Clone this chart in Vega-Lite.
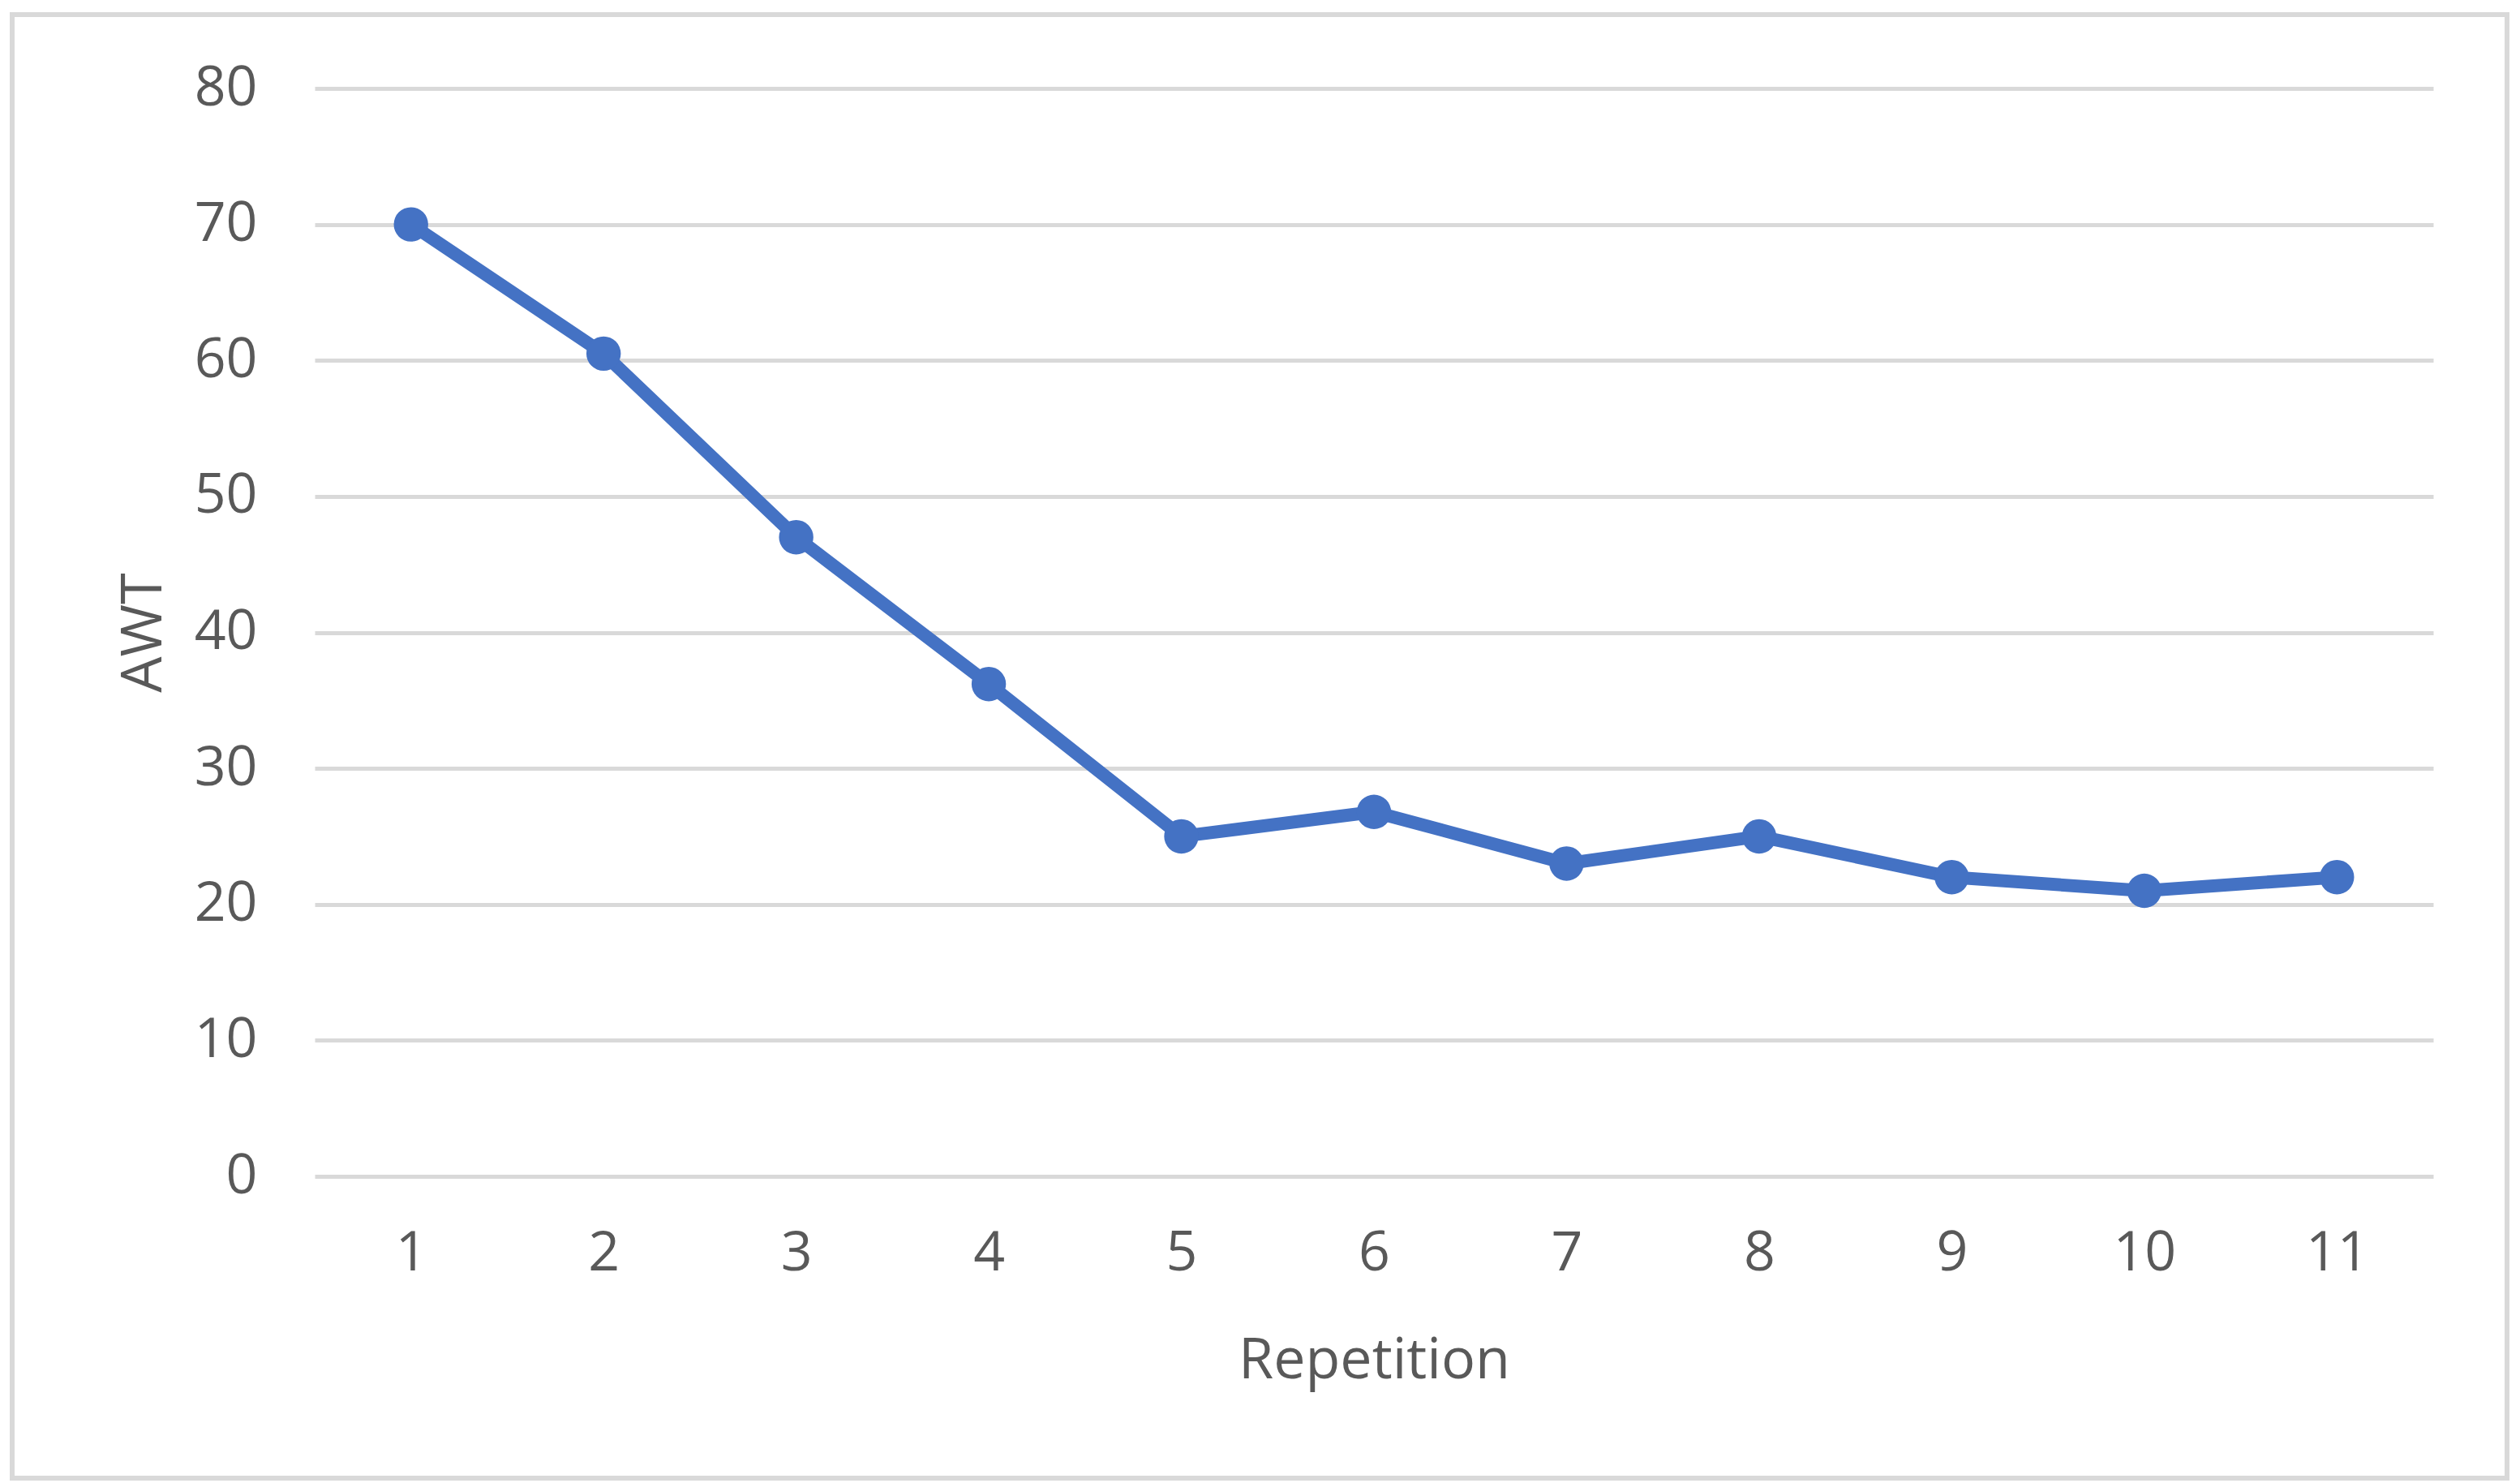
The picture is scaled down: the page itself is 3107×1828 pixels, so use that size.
{
  "$schema": "https://vega.github.io/schema/vega-lite/v6.json",
  "autosize": {"type": "none"},
  "width": 3076,
  "height": 1804,
  "padding": {"left": 15, "top": 18, "right": 16, "bottom": 6},
  "background": "#ffffff",
  "config": {
    "view": {"stroke": "#d9d9d9", "strokeWidth": 6},
    "font": "Open Sans",
    "axis": {
      "labelFont": "Open Sans",
      "titleFont": "Open Sans",
      "labelColor": "#595959",
      "titleColor": "#595959",
      "labelFontSize": 68,
      "titleFontSize": 70,
      "titleFontWeight": "normal",
      "domain": false,
      "ticks": false,
      "tickSize": 0
    }
  },
  "data": {
    "values": [
      {"Repetition": 1, "AWT": 70},
      {"Repetition": 2, "AWT": 60.5},
      {"Repetition": 3, "AWT": 47},
      {"Repetition": 4, "AWT": 36.2},
      {"Repetition": 5, "AWT": 25},
      {"Repetition": 6, "AWT": 26.8},
      {"Repetition": 7, "AWT": 23},
      {"Repetition": 8, "AWT": 25},
      {"Repetition": 9, "AWT": 22},
      {"Repetition": 10, "AWT": 21},
      {"Repetition": 11, "AWT": 22}
    ]
  },
  "encoding": {
    "x": {
      "field": "Repetition",
      "type": "ordinal",
      "scale": {"type": "point", "padding": 0.5, "range": [373, 2985]},
      "axis": {
        "title": "Repetition",
        "labelAngle": 0,
        "offset": -372,
        "grid": false,
        "labelPadding": 61,
        "titlePadding": 64
      }
    },
    "y": {
      "field": "AWT",
      "type": "quantitative",
      "scale": {"domain": [0, 80], "range": [1432, 91], "nice": false, "zero": true},
      "axis": {
        "title": "AWT",
        "values": [0, 10, 20, 30, 40, 50, 60, 70, 80],
        "offset": -373,
        "grid": true,
        "gridColor": "#d9d9d9",
        "gridWidth": 5,
        "labelPadding": 71,
        "titlePadding": 26
      }
    }
  },
  "layer": [
    {"mark": {"type": "line", "color": "#4472c4", "strokeWidth": 16, "strokeJoin": "round", "strokeCap": "round"}},
    {"mark": {"type": "point", "filled": true, "opacity": 1, "color": "#4472c4", "size": 1800, "shape": "circle"}}
  ]
}
